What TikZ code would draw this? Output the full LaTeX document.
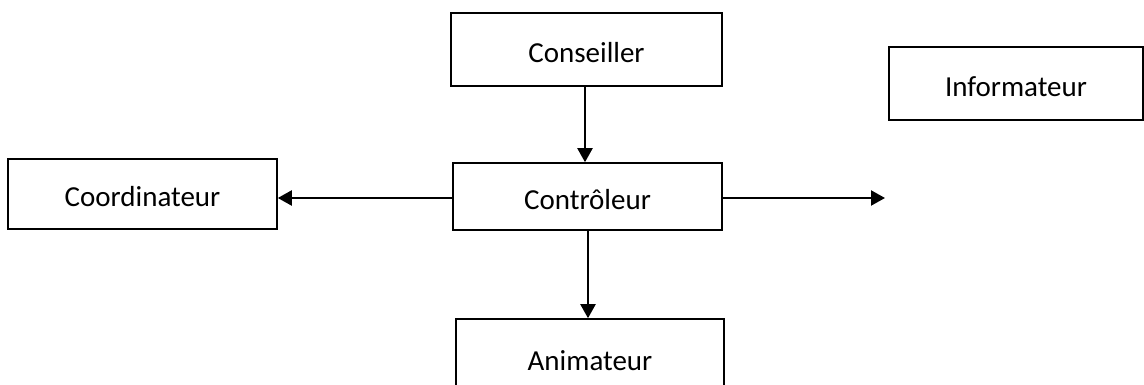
\documentclass[tikz,border=0pt]{standalone}
\usepackage{fontspec}
\setmainfont{Carlito}
\usetikzlibrary{arrows.meta}
\begin{document}
\begin{tikzpicture}[x=1pt,y=-1pt,
  box/.style={draw=black,line width=1.6pt,rectangle,inner sep=0pt,text height=26pt,text depth=0pt,font=\fontsize{29}{34}\selectfont},
  arr/.style={draw=black,line width=2.2pt,-{Triangle[length=14pt,width=15pt]}}]
\useasboundingbox (0,0) rectangle (1144,385);
\clip (0,0) rectangle (1144,385);
\node[box,minimum width=271pt,minimum height=73pt] (cons) at (586.5,49.5) {Conseiller};
\node[box,minimum width=269pt,minimum height=70pt] (coord) at (142.5,194) {Coordinateur};
\node[box,minimum width=269pt,minimum height=67pt] (ctrl) at (587.5,196.5) {Contrôleur};
\node[box,minimum width=254pt,minimum height=73pt] (info) at (1016,83.5) {Informateur};
\node[box,minimum width=268pt,minimum height=76pt] (anim) at (590,357) {Animateur};
\coordinate (rend) at (885,198);
\draw[arr] (cons.south -| 585,0) -- (ctrl.north -| 585,0);
\draw[arr] (ctrl.west |- rend) -- (coord.east |- rend);
\draw[arr] (ctrl.east |- rend) -- (rend);
\draw[arr] (ctrl.south -| 588,0) -- (anim.north -| 588,0);
\end{tikzpicture}
\end{document}
